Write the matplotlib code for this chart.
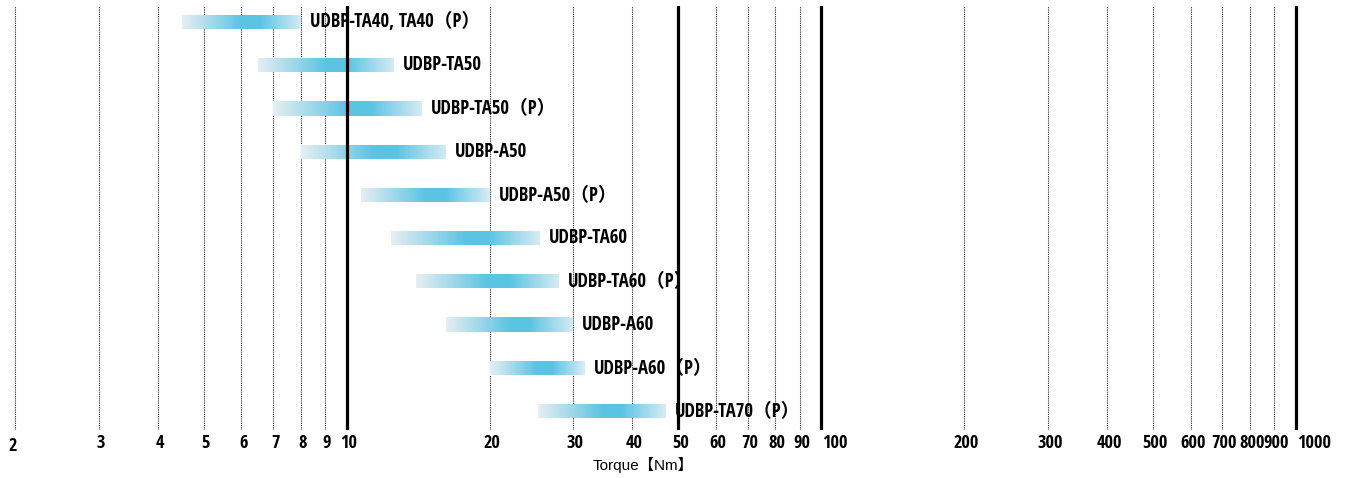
import matplotlib
matplotlib.use("Agg")
import matplotlib.pyplot as plt
import numpy as np
from matplotlib import font_manager
from matplotlib.font_manager import FontProperties
from matplotlib.textpath import TextToPath
from matplotlib.colors import LinearSegmentedColormap

# Plages de couple par modèle (Nm)
models = ["UDBP-TA40, TA40（P）", "UDBP-TA50", "UDBP-TA50（P）", "UDBP-A50", "UDBP-A50（P）",
          "UDBP-TA60", "UDBP-TA60（P）", "UDBP-A60", "UDBP-A60（P）", "UDBP-TA70（P）"]
torque_min = [4.5, 6.5, 7.0, 8.0, 10.7, 12.4, 14.0, 16.2, 20.0, 25.3]
torque_max = [8.0, 12.6, 14.4, 16.2, 20.0, 25.5, 28.0, 30.0, 31.7, 47.0]

tick_values = [2, 3, 4, 5, 6, 7, 8, 9, 10, 20, 30, 40, 50, 60, 70, 80, 90, 100,
               200, 300, 400, 500, 600, 700, 800, 900, 1000]
thick_values = [10, 50, 100, 1000]

# Police sans-serif grasse la plus étroite parmi les familles connues
allowed = ["Liberation Sans Narrow", "Liberation Sans", "DejaVu Sans", "DejaVu Sans Condensed",
           "Noto Sans", "Noto Sans Condensed", "Noto Sans SemiCondensed", "Noto Sans ExtraCondensed",
           "Roboto", "Roboto Condensed", "Open Sans", "Open Sans Condensed", "Lato", "Inter"]
ttp = TextToPath()
px = 100 / 72
best, best_ratio = None, 1e9
for f in font_manager.fontManager.ttflist:
    w = f.weight if isinstance(f.weight, int) else font_manager.weight_dict.get(f.weight, 400)
    if w < 600 or w > 800 or f.style != "normal" or f.name not in allowed:
        continue
    try:
        prop = FontProperties(fname=f.fname, size=10)
        width = ttp.get_text_width_height_descent("UDBP-TA50", prop, ismath=False)[0]
        cap = ttp.get_text_width_height_descent("H", prop, ismath=False)[1]
        found = font_manager.findfont(FontProperties(family=f.name, weight=f.weight, stretch=f.stretch),
                                      fallback_to_default=False)
    except Exception:
        continue
    if found != f.fname or cap <= 0:
        continue
    if width / cap < best_ratio:
        best, best_ratio, best_w, best_cap = f, width / cap, width, cap

if best is not None:
    fam = dict(family=[best.name, "Noto Sans CJK JP", "DejaVu Sans"], stretch=best.stretch,
               fontweight=best.weight)
    prop = FontProperties(fname=best.fname, size=10)
    # compromis entre la hauteur (13 px) et la largeur (85 px) des étiquettes de l'original
    size_cap = 10 * 13 / (best_cap * px)
    size_w = 10 * 85 / (best_w * px)
    label_size = size_cap ** 0.7 * size_w ** 0.3
    w900 = ttp.get_text_width_height_descent("900", prop, ismath=False)[0] * px
    tick_size = min(label_size, 10 * 25.5 / w900)
else:
    fam = dict(family=["Roboto", "Noto Sans CJK JP", "DejaVu Sans"], fontweight="bold")
    label_size, tick_size = 12, 10.5

cmap = LinearSegmentedColormap.from_list(
    "bleu", [(0.0, "#e6eef2"), (0.5, "#5bc4e3"), (0.66, "#5bc4e3"), (1.0, "#d6eaf2")])

fig = plt.figure(figsize=(13.5, 4.78), dpi=100)
ax = fig.add_axes([0, 48 / 478, 1, 424 / 478])
ax.set_xscale("log")
ax.set_xlim(1.86, 1300)
ax.set_ylim(9.44, -0.37)

# Lignes verticales
for v in tick_values:
    if v in thick_values:
        ax.axvline(v, color="black", lw=2.3, zorder=3)
    else:
        ax.axvline(v, color="#222222", lw=0.8, linestyle=(0, (1, 1)), zorder=1)

# Barres en dégradé
n = 120
t = (np.arange(n) + 0.5) / n
for i, (lo, hi) in enumerate(zip(torque_min, torque_max)):
    edges = np.geomspace(lo, hi, n + 1)
    ax.barh(np.full(n, i), edges[1:] - edges[:-1], left=edges[:-1], height=0.33,
            color=cmap(t), linewidth=0, antialiased=False, zorder=2)
    ax.annotate(models[i], (hi, i), xytext=(9, 0), textcoords="offset pixels",
                va="center", ha="left", zorder=4, fontsize=label_size, **fam)

# Étiquettes de l'axe
for v in tick_values:
    if v in (100, 1000):
        ax.annotate(str(v), (v, 0), xycoords=("data", "axes fraction"), xytext=(1, -13),
                    textcoords="offset pixels", ha="left", va="center", fontsize=tick_size, **fam)
    elif v == 2:
        ax.annotate(str(v), (v, 0), xycoords=("data", "axes fraction"), xytext=(-2, -16),
                    textcoords="offset pixels", ha="center", va="center", fontsize=tick_size, **fam)
    else:
        ax.annotate(str(v), (v, 0), xycoords=("data", "axes fraction"), xytext=(2, -13),
                    textcoords="offset pixels", ha="center", va="center", fontsize=tick_size, **fam)

ax.set_xticks([])
ax.xaxis.set_minor_locator(matplotlib.ticker.NullLocator())
ax.set_yticks([])
for s in ax.spines.values():
    s.set_visible(False)

fig.text(0.476, 1 - 465 / 478, "Torque【Nm】", ha="center", va="center", fontsize=11,
         family=["Liberation Sans", "Noto Sans CJK JP", "DejaVu Sans"])

fig.savefig("out.png", dpi=100)
